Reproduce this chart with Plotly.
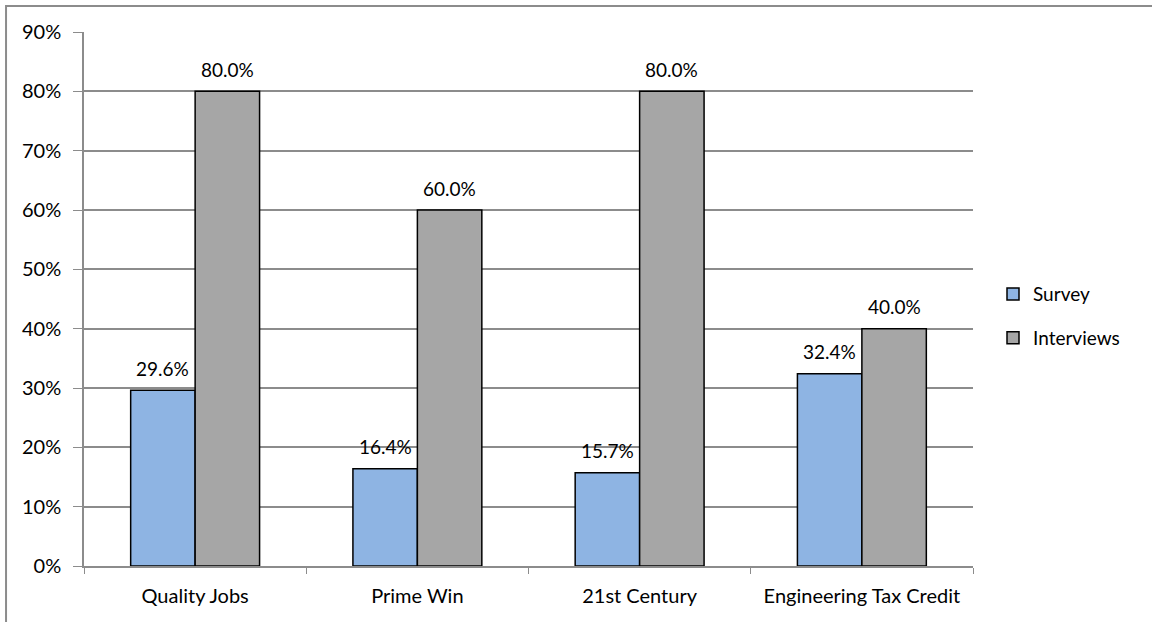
import plotly.graph_objects as go

categories = ["Quality Jobs", "Prime Win", "21st Century", "Engineering Tax Credit"]
survey = [29.6, 16.4, 15.7, 32.4]
interviews = [80.0, 60.0, 80.0, 40.0]
y_ticks = [0, 10, 20, 30, 40, 50, 60, 70, 80, 90]
y_tick_labels = [f"{v}%" for v in y_ticks]

FONT = "Lato"
FS = 20

fig = go.Figure()
fig.add_trace(go.Bar(
    name="Survey", x=categories, y=survey,
    marker=dict(color="#8EB4E3", line=dict(color="black", width=1.5)),
    legendgroup="a",
))
fig.add_trace(go.Bar(
    name="Interviews", x=categories, y=interviews,
    marker=dict(color="#A6A6A6", line=dict(color="black", width=1.5)),
    legendgroup="b",
))

# data labels above each bar
annotations = []
half = 32.2
for series, shift in ((survey, -half), (interviews, half)):
    for c, v in zip(categories, series):
        annotations.append(dict(
            x=c, y=v, xref="x", yref="y", text=f"{v:.1f}%",
            showarrow=False, xshift=shift, yshift=22,
            yanchor="middle", xanchor="center",
            font=dict(family=FONT, size=19, color="black"),
        ))

fig.update_layout(
    width=1152, height=622,
    margin=dict(l=84, r=179, t=32, b=56),
    paper_bgcolor="white", plot_bgcolor="white",
    font=dict(family=FONT, size=FS, color="black"),
    barmode="group", bargap=0.42, bargroupgap=0,
    legend=dict(x=1.0225, y=0.468, xanchor="left", yanchor="middle",
                font=dict(family=FONT, size=19, color="black"),
                tracegroupgap=16, itemwidth=30),
    annotations=annotations,
    shapes=[dict(type="rect", xref="paper", yref="paper",
                 x0=-0.0877, x1=1.5, y0=-0.3, y1=1.0487,
                 line=dict(color="#8c8c8c", width=2), layer="below")],
)
fig.update_xaxes(
    showline=True, linecolor="#8c8c8c", linewidth=1.5,
    ticks="outside", tickson="boundaries", ticklen=6, tickcolor="#8c8c8c",
    tickfont=dict(family=FONT, size=FS, color="black"),
    ticklabelstandoff=11,
    showgrid=False,
)
fig.update_yaxes(
    range=[0, 90], tickvals=y_ticks, ticktext=y_tick_labels,
    showline=True, linecolor="#8c8c8c", linewidth=1.5,
    ticks="outside", ticklen=9, tickcolor="#8c8c8c",
    showgrid=True, gridcolor="#8c8c8c", gridwidth=1.5,
    tickfont=dict(family=FONT, size=FS, color="black"),
    ticklabelstandoff=8,
    zeroline=False,
)

fig.write_html("out.html")
